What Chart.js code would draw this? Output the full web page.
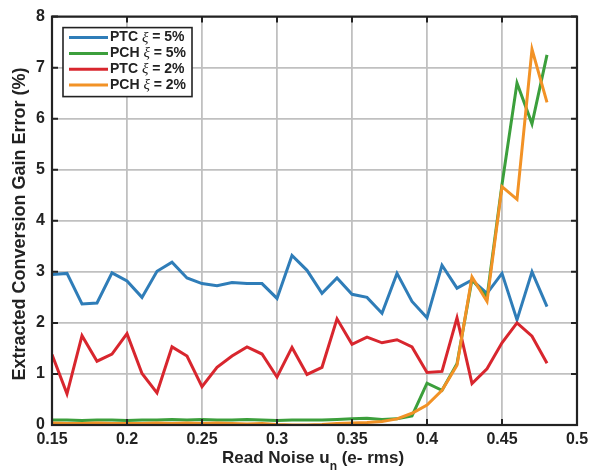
<!DOCTYPE html>
<html>
<head>
<meta charset="utf-8">
<script src="https://cdn.jsdelivr.net/npm/chart.js@4.4.1/dist/chart.umd.min.js"></script>
<style>
  html, body { margin: 0; padding: 0; background: #fff; }
  #wrap { width: 598px; height: 474px; }
</style>
</head>
<body>
<div id="wrap"><canvas id="gainError" width="598" height="474"></canvas></div>
<script>
// read noise (e- rms)
const noise = [0.15, 0.16, 0.17, 0.18, 0.19, 0.20, 0.21, 0.22, 0.23, 0.24, 0.25, 0.26,
  0.27, 0.28, 0.29, 0.30, 0.31, 0.32, 0.33, 0.34, 0.35, 0.36, 0.37, 0.38, 0.39, 0.40,
  0.41, 0.42, 0.43, 0.44, 0.45, 0.46, 0.47, 0.48]

// extracted conversion gain error (%)
const ptc5 = [2.95, 2.97, 2.37, 2.39, 2.98, 2.82, 2.50, 3.01, 3.19, 2.88, 2.77, 2.73,
  2.79, 2.77, 2.77, 2.48, 3.32, 3.03, 2.58, 2.88, 2.56, 2.50, 2.19, 2.97, 2.42, 2.10,
  3.13, 2.68, 2.84, 2.58, 2.97, 2.06, 3.00, 2.32]
const pch5 = [0.10, 0.10, 0.09, 0.10, 0.10, 0.09, 0.10, 0.10, 0.11, 0.10, 0.11, 0.10,
  0.10, 0.11, 0.10, 0.09, 0.10, 0.10, 0.10, 0.11, 0.12, 0.13, 0.11, 0.12, 0.18, 0.82,
  0.68, 1.20, 2.85, 2.50, 4.71, 6.70, 5.90, 7.25]
const ptc2 = [1.38, 0.61, 1.75, 1.25, 1.39, 1.79, 1.01, 0.63, 1.53, 1.35, 0.75, 1.13,
  1.35, 1.53, 1.39, 0.94, 1.52, 0.99, 1.13, 2.08, 1.58, 1.72, 1.61, 1.67, 1.53, 1.03,
  1.05, 2.10, 0.81, 1.10, 1.61, 2.00, 1.74, 1.21]
const pch2 = [0.04, 0.03, 0.03, 0.04, 0.03, 0.03, 0.03, 0.04, 0.03, 0.04, 0.03, 0.04,
  0.03, 0.02, 0.03, 0.01, 0.00, 0.00, 0.01, 0.03, 0.04, 0.05, 0.07, 0.12, 0.23, 0.39,
  0.68, 1.17, 2.90, 2.42, 4.67, 4.42, 7.36, 6.32]

const series = [
  { method: 'PTC', xi: '5%', values: ptc5, color: '#2f7db8', order: 4 },
  { method: 'PCH', xi: '5%', values: pch5, color: '#3c9f3c', order: 3 },
  { method: 'PTC', xi: '2%', values: ptc2, color: '#d8262e', order: 2 },
  { method: 'PCH', xi: '2%', values: pch2, color: '#f29226', order: 1 }
]

const FONT = '"Liberation Sans", Arial, sans-serif'
const GREEK = 'italic 15px "Liberation Serif", serif'
const INK = '#222'

// frame, inner tick marks, legend box and axis titles
const decorations = {
  id: 'decorations',
  afterDraw(chart) {
    const ctx = chart.ctx
    const area = chart.chartArea
    const xs = chart.scales.x
    const ys = chart.scales.y
    ctx.save()

    // tick marks pointing inward on all four sides
    ctx.strokeStyle = INK
    ctx.lineWidth = 2
    ctx.beginPath()
    xs.ticks.forEach(t => {
      const px = xs.getPixelForValue(t.value)
      ctx.moveTo(px, area.bottom); ctx.lineTo(px, area.bottom - 6)
      ctx.moveTo(px, area.top); ctx.lineTo(px, area.top + 6)
    })
    ys.ticks.forEach(t => {
      const py = ys.getPixelForValue(t.value)
      ctx.moveTo(area.left, py); ctx.lineTo(area.left + 6, py)
      ctx.moveTo(area.right, py); ctx.lineTo(area.right - 6, py)
    })
    ctx.stroke()

    ctx.lineWidth = 2.2
    ctx.strokeRect(area.left, area.top, area.right - area.left, area.bottom - area.top)

    // legend
    const lx = area.left + 11, ly = area.top + 11
    const rowH = 15.8
    ctx.fillStyle = '#fff'
    ctx.fillRect(lx, ly, 129, 69)
    ctx.lineWidth = 1.6
    ctx.strokeStyle = INK
    ctx.strokeRect(lx, ly, 129, 69)
    ctx.textBaseline = 'middle'
    series.forEach((s, i) => {
      const y = ly + 10 + i * rowH
      ctx.strokeStyle = s.color
      ctx.lineWidth = 3
      ctx.beginPath()
      ctx.moveTo(lx + 6, y); ctx.lineTo(lx + 45, y)
      ctx.stroke()
      let x = lx + 47
      ctx.fillStyle = INK
      ctx.font = 'bold 14px ' + FONT
      ctx.fillText(s.method + ' ', x, y)
      x += ctx.measureText(s.method + ' ').width
      ctx.font = GREEK
      ctx.fillText('\u03BE', x, y)
      x += ctx.measureText('\u03BE').width
      ctx.font = 'bold 14px ' + FONT
      ctx.fillText(' = ' + s.xi, x, y)
    })

    // x title with subscript
    ctx.fillStyle = INK
    ctx.textBaseline = 'alphabetic'
    const a = 'Read Noise u', b = ' (e- rms)'
    ctx.font = 'bold 17px ' + FONT
    const wa = ctx.measureText(a).width, wb = ctx.measureText(b).width
    ctx.font = 'bold 12px ' + FONT
    const wn = ctx.measureText('n').width
    let tx = 313 - (wa + wn + wb) / 2
    const ty = 463
    ctx.font = 'bold 17px ' + FONT
    ctx.fillText(a, tx, ty)
    tx += wa
    ctx.font = 'bold 12px ' + FONT
    ctx.fillText('n', tx, ty + 7)
    tx += wn
    ctx.font = 'bold 17px ' + FONT
    ctx.fillText(b, tx, ty)

    // y title
    ctx.translate(20, 224)
    ctx.rotate(-Math.PI / 2)
    ctx.textAlign = 'center'
    ctx.textBaseline = 'middle'
    ctx.font = 'bold 18px ' + FONT
    ctx.fillText('Extracted Conversion Gain Error (%)', 0, 0)
    ctx.restore()
  }
}

new Chart(document.getElementById('gainError'), {
  type: 'line',
  data: {
    labels: noise,
    datasets: series.map(s => ({
      label: s.method + ' \u03BE = ' + s.xi,
      data: noise.map((x, i) => ({ x: x, y: s.values[i] })),
      borderColor: s.color,
      backgroundColor: s.color,
      borderWidth: 3,
      pointRadius: 0,
      tension: 0,
      order: s.order
    }))
  },
  options: {
    responsive: false,
    animation: false,
    layout: { padding: { left: 0, right: 21, top: 12, bottom: 0 } },
    plugins: {
      legend: { display: false },
      tooltip: { enabled: false }
    },
    scales: {
      x: {
        type: 'linear',
        min: 0.15,
        max: 0.5,
        ticks: {
          stepSize: 0.05,
          padding: 5,
          color: INK,
          font: { family: FONT, size: 16, weight: 'bold' },
          callback: v => String(+v.toFixed(2))
        },
        grid: { color: '#c0c0c0', lineWidth: 1.8, drawTicks: false },
        border: { display: false },
        afterFit: scale => { scale.height = 49 }
      },
      y: {
        min: 0,
        max: 8,
        ticks: {
          stepSize: 1,
          padding: 7,
          color: INK,
          font: { family: FONT, size: 16, weight: 'bold' }
        },
        grid: { color: '#c0c0c0', lineWidth: 1.8, drawTicks: false },
        border: { display: false },
        afterFit: scale => { scale.width = 52 }
      }
    }
  },
  plugins: [decorations]
})
</script>
</body>
</html>
